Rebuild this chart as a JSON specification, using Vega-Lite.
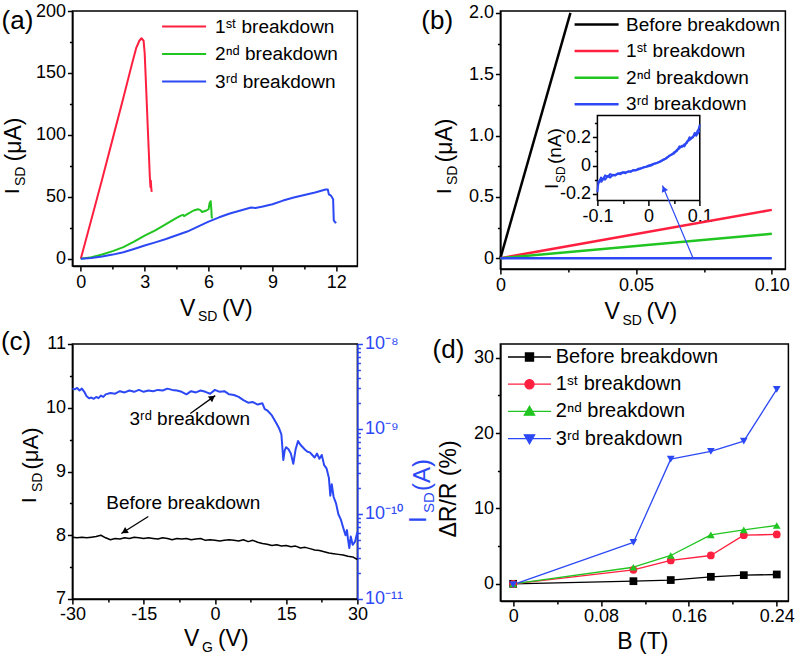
{
"$schema":"https://vega.github.io/schema/vega-lite/v6.json",
"padding":{"left":-0.6,"top":1,"right":5,"bottom":5},
"background":"white",
"columns":2,
"spacing":{"row":75,"column":143},
"bounds":"flush",
"resolve":{"scale":{"color":"independent","shape":"independent","fill":"independent","stroke":"independent"}},
"config":{
 "font":"Liberation Sans",
 "view":{"stroke":"#000","strokeWidth":1.5},
 "axis":{"grid":false,"domainColor":"#000","domainWidth":1.5,"tickColor":"#000","tickWidth":1.5,"labelColor":"#000","labelFontSize":18,"labelFont":"Liberation Sans","titleFont":"Liberation Sans","titleFontWeight":"normal","titleColor":"#000","titlePadding":0,"labelPadding":2,"labelOverlap":false,"labelFlush":false,"labelBound":false},
 "legend":{"labelFont":"Liberation Sans","labelColor":"#000"},
 "line":{"strokeJoin":"round"}
},
"datasets":{
 "a":[
  {"V":0,"I":0,"s":"1ˢᵗ breakdown"},{"V":0.5,"I":32,"s":"1ˢᵗ breakdown"},{"V":1,"I":64,"s":"1ˢᵗ breakdown"},{"V":1.5,"I":97,"s":"1ˢᵗ breakdown"},{"V":2,"I":130,"s":"1ˢᵗ breakdown"},{"V":2.4,"I":157,"s":"1ˢᵗ breakdown"},{"V":2.6,"I":170,"s":"1ˢᵗ breakdown"},{"V":2.75,"I":176,"s":"1ˢᵗ breakdown"},{"V":2.85,"I":178,"s":"1ˢᵗ breakdown"},{"V":2.95,"I":176,"s":"1ˢᵗ breakdown"},{"V":3.0,"I":166,"s":"1ˢᵗ breakdown"},{"V":3.05,"I":146,"s":"1ˢᵗ breakdown"},{"V":3.1,"I":125,"s":"1ˢᵗ breakdown"},{"V":3.15,"I":104,"s":"1ˢᵗ breakdown"},{"V":3.2,"I":84,"s":"1ˢᵗ breakdown"},{"V":3.24,"I":67,"s":"1ˢᵗ breakdown"},{"V":3.27,"I":58,"s":"1ˢᵗ breakdown"},{"V":3.29,"I":63,"s":"1ˢᵗ breakdown"},{"V":3.31,"I":57,"s":"1ˢᵗ breakdown"},{"V":3.33,"I":54,"s":"1ˢᵗ breakdown"},
  {"V":0,"I":0,"s":"2ⁿᵈ breakdown"},{"V":0.5,"I":1.2,"s":"2ⁿᵈ breakdown"},{"V":1,"I":3.5,"s":"2ⁿᵈ breakdown"},{"V":1.5,"I":6.2,"s":"2ⁿᵈ breakdown"},{"V":2,"I":9.4,"s":"2ⁿᵈ breakdown"},{"V":2.5,"I":13.8,"s":"2ⁿᵈ breakdown"},{"V":3,"I":18.7,"s":"2ⁿᵈ breakdown"},{"V":3.5,"I":23,"s":"2ⁿᵈ breakdown"},{"V":4,"I":28,"s":"2ⁿᵈ breakdown"},{"V":4.5,"I":33,"s":"2ⁿᵈ breakdown"},{"V":4.7,"I":34.8,"s":"2ⁿᵈ breakdown"},{"V":4.8,"I":35.5,"s":"2ⁿᵈ breakdown"},{"V":4.85,"I":34.5,"s":"2ⁿᵈ breakdown"},{"V":5,"I":36,"s":"2ⁿᵈ breakdown"},{"V":5.3,"I":39,"s":"2ⁿᵈ breakdown"},{"V":5.5,"I":40,"s":"2ⁿᵈ breakdown"},{"V":5.6,"I":39.5,"s":"2ⁿᵈ breakdown"},{"V":5.7,"I":37.8,"s":"2ⁿᵈ breakdown"},{"V":5.9,"I":39,"s":"2ⁿᵈ breakdown"},{"V":6.0,"I":40,"s":"2ⁿᵈ breakdown"},{"V":6.05,"I":45,"s":"2ⁿᵈ breakdown"},{"V":6.1,"I":46.5,"s":"2ⁿᵈ breakdown"},{"V":6.13,"I":40,"s":"2ⁿᵈ breakdown"},{"V":6.15,"I":33.4,"s":"2ⁿᵈ breakdown"},{"V":6.2,"I":33,"s":"2ⁿᵈ breakdown"},
  {"V":0,"I":0,"s":"3ʳᵈ breakdown"},{"V":0.5,"I":0.6,"s":"3ʳᵈ breakdown"},{"V":1,"I":1.9,"s":"3ʳᵈ breakdown"},{"V":1.5,"I":3.4,"s":"3ʳᵈ breakdown"},{"V":2,"I":5.3,"s":"3ʳᵈ breakdown"},{"V":2.5,"I":7.9,"s":"3ʳᵈ breakdown"},{"V":3,"I":10.7,"s":"3ʳᵈ breakdown"},{"V":3.5,"I":13.3,"s":"3ʳᵈ breakdown"},{"V":4,"I":16,"s":"3ʳᵈ breakdown"},{"V":4.5,"I":19,"s":"3ʳᵈ breakdown"},{"V":5,"I":22,"s":"3ʳᵈ breakdown"},{"V":5.5,"I":26,"s":"3ʳᵈ breakdown"},{"V":6,"I":30,"s":"3ʳᵈ breakdown"},{"V":6.5,"I":33.5,"s":"3ʳᵈ breakdown"},{"V":7,"I":36.6,"s":"3ʳᵈ breakdown"},{"V":7.5,"I":39,"s":"3ʳᵈ breakdown"},{"V":8,"I":41.4,"s":"3ʳᵈ breakdown"},{"V":8.2,"I":41,"s":"3ʳᵈ breakdown"},{"V":8.5,"I":42,"s":"3ʳᵈ breakdown"},{"V":9,"I":44,"s":"3ʳᵈ breakdown"},{"V":9.5,"I":47,"s":"3ʳᵈ breakdown"},{"V":10,"I":49.5,"s":"3ʳᵈ breakdown"},{"V":10.5,"I":51.5,"s":"3ʳᵈ breakdown"},{"V":11,"I":53.5,"s":"3ʳᵈ breakdown"},{"V":11.5,"I":56,"s":"3ʳᵈ breakdown"},{"V":11.6,"I":56,"s":"3ʳᵈ breakdown"},{"V":11.65,"I":52,"s":"3ʳᵈ breakdown"},{"V":11.75,"I":51,"s":"3ʳᵈ breakdown"},{"V":11.85,"I":48,"s":"3ʳᵈ breakdown"},{"V":11.88,"I":31,"s":"3ʳᵈ breakdown"},{"V":11.95,"I":29.5,"s":"3ʳᵈ breakdown"},{"V":12,"I":29,"s":"3ʳᵈ breakdown"}
 ],
 "b":[
  {"V":0,"I":0,"s":"Before breakdown"},{"V":0.0258,"I":2.0,"s":"Before breakdown"},
  {"V":0,"I":0,"s":"1ˢᵗ breakdown"},{"V":0.1,"I":0.394,"s":"1ˢᵗ breakdown"},
  {"V":0,"I":0,"s":"2ⁿᵈ breakdown"},{"V":0.1,"I":0.199,"s":"2ⁿᵈ breakdown"},
  {"V":0,"I":0,"s":"3ʳᵈ breakdown"},{"V":0.1,"I":0.0003,"s":"3ʳᵈ breakdown"}
 ],
 "insetbox":[{"x1":-0.1,"x2":0.1,"y1":-0.247,"y2":0.353}],
 "inset1":[
  {"V":-0.1,"I":-0.19},{"V":-0.098,"I":-0.12},{"V":-0.095,"I":-0.1},{"V":-0.092,"I":-0.115},{"V":-0.088,"I":-0.09},{"V":-0.085,"I":-0.1},{"V":-0.08,"I":-0.075},{"V":-0.075,"I":-0.085},{"V":-0.07,"I":-0.065},{"V":-0.065,"I":-0.07},{"V":-0.06,"I":-0.055},{"V":-0.055,"I":-0.062},{"V":-0.05,"I":-0.05},{"V":-0.045,"I":-0.055},{"V":-0.04,"I":-0.04},{"V":-0.035,"I":-0.045},{"V":-0.03,"I":-0.032},{"V":-0.025,"I":-0.035},{"V":-0.02,"I":-0.022},{"V":-0.015,"I":-0.02},{"V":-0.01,"I":-0.012},{"V":-0.005,"I":-0.008},{"V":0,"I":0},{"V":0.005,"I":0.005},{"V":0.01,"I":0.012},{"V":0.015,"I":0.018},{"V":0.02,"I":0.022},{"V":0.025,"I":0.035},{"V":0.03,"I":0.04},{"V":0.035,"I":0.055},{"V":0.04,"I":0.065},{"V":0.045,"I":0.08},{"V":0.05,"I":0.085},{"V":0.055,"I":0.11},{"V":0.06,"I":0.12},{"V":0.065,"I":0.14},{"V":0.07,"I":0.135},{"V":0.075,"I":0.17},{"V":0.08,"I":0.18},{"V":0.085,"I":0.2},{"V":0.09,"I":0.215},{"V":0.095,"I":0.24},{"V":0.098,"I":0.26},{"V":0.1,"I":0.29}
 ],
 "inset2":[
  {"V":0.1,"I":0.25},{"V":0.097,"I":0.23},{"V":0.093,"I":0.21},{"V":0.09,"I":0.23},{"V":0.087,"I":0.2},{"V":0.083,"I":0.19},{"V":0.08,"I":0.2},{"V":0.075,"I":0.16},{"V":0.07,"I":0.15},{"V":0.065,"I":0.13},{"V":0.06,"I":0.135},{"V":0.055,"I":0.1},{"V":0.05,"I":0.095},{"V":0.045,"I":0.075},{"V":0.04,"I":0.07},{"V":0.035,"I":0.05},{"V":0.03,"I":0.045},{"V":0.025,"I":0.03},{"V":0.02,"I":0.025},{"V":0.015,"I":0.015},{"V":0.01,"I":0.01},{"V":0.005,"I":0},{"V":0,"I":-0.005},{"V":-0.01,"I":-0.015},{"V":-0.02,"I":-0.028},{"V":-0.03,"I":-0.035},{"V":-0.04,"I":-0.045},{"V":-0.05,"I":-0.048},{"V":-0.06,"I":-0.06},{"V":-0.07,"I":-0.07},{"V":-0.075,"I":-0.06},{"V":-0.08,"I":-0.08},{"V":-0.085,"I":-0.07},{"V":-0.09,"I":-0.1},{"V":-0.093,"I":-0.085},{"V":-0.096,"I":-0.12},{"V":-0.1,"I":-0.11}
 ],
 "barrow":[{"x1":0.071,"y1":0,"x2":0.0597,"y2":0.5926}],
 "bhead":[{"x":0.0602,"y":0.5665}],
 "cblack":[
  {"VG":-30,"I":7.97},{"VG":-29,"I":7.96},{"VG":-28,"I":7.97},{"VG":-27,"I":7.96},{"VG":-26,"I":7.97},{"VG":-25,"I":7.98},{"VG":-24,"I":8.0},{"VG":-23,"I":7.96},{"VG":-22,"I":7.93},{"VG":-21,"I":7.95},{"VG":-20,"I":7.94},{"VG":-19,"I":7.96},{"VG":-18,"I":7.95},{"VG":-17,"I":7.97},{"VG":-16,"I":7.96},{"VG":-15,"I":7.95},{"VG":-14,"I":7.96},{"VG":-13,"I":7.95},{"VG":-12,"I":7.94},{"VG":-11,"I":7.96},{"VG":-10,"I":7.95},{"VG":-9,"I":7.93},{"VG":-8,"I":7.95},{"VG":-7,"I":7.94},{"VG":-6,"I":7.95},{"VG":-5,"I":7.93},{"VG":-4,"I":7.94},{"VG":-3,"I":7.95},{"VG":-2,"I":7.92},{"VG":-1,"I":7.93},{"VG":0,"I":7.92},{"VG":1,"I":7.91},{"VG":2,"I":7.92},{"VG":3,"I":7.93},{"VG":4,"I":7.92},{"VG":5,"I":7.91},{"VG":6,"I":7.93},{"VG":7,"I":7.9},{"VG":8,"I":7.92},{"VG":9,"I":7.89},{"VG":10,"I":7.87},{"VG":11,"I":7.86},{"VG":12,"I":7.84},{"VG":13,"I":7.85},{"VG":14,"I":7.83},{"VG":15,"I":7.84},{"VG":16,"I":7.82},{"VG":17,"I":7.83},{"VG":18,"I":7.8},{"VG":19,"I":7.81},{"VG":20,"I":7.79},{"VG":21,"I":7.77},{"VG":22,"I":7.76},{"VG":23,"I":7.74},{"VG":24,"I":7.72},{"VG":25,"I":7.71},{"VG":26,"I":7.7},{"VG":27,"I":7.69},{"VG":28,"I":7.67},{"VG":29,"I":7.66},{"VG":30,"I":7.62}
 ],
 "cblue":[
  {"VG":-30,"I":2.985e-9},{"VG":-29.5,"I":2.934e-9},{"VG":-29,"I":3.037e-9},{"VG":-28.5,"I":2.835e-9},{"VG":-28,"I":2.985e-9},{"VG":-27.5,"I":2.738e-9},{"VG":-27,"I":2.427e-9},{"VG":-26.5,"I":2.304e-9},{"VG":-26,"I":2.344e-9},{"VG":-25.5,"I":2.265e-9},{"VG":-25,"I":2.385e-9},{"VG":-24.5,"I":2.304e-9},{"VG":-24,"I":2.469e-9},{"VG":-23.5,"I":2.385e-9},{"VG":-23,"I":2.556e-9},{"VG":-22,"I":2.646e-9},{"VG":-21,"I":2.6e-9},{"VG":-20,"I":2.786e-9},{"VG":-19,"I":2.692e-9},{"VG":-18,"I":2.835e-9},{"VG":-17,"I":2.738e-9},{"VG":-16,"I":2.884e-9},{"VG":-15,"I":2.738e-9},{"VG":-14,"I":2.835e-9},{"VG":-13,"I":2.786e-9},{"VG":-12,"I":2.884e-9},{"VG":-11,"I":2.835e-9},{"VG":-10,"I":2.985e-9},{"VG":-9,"I":2.884e-9},{"VG":-8,"I":2.835e-9},{"VG":-7,"I":2.738e-9},{"VG":-6,"I":2.556e-9},{"VG":-5,"I":2.786e-9},{"VG":-4,"I":2.692e-9},{"VG":-3,"I":2.835e-9},{"VG":-2,"I":2.738e-9},{"VG":-1,"I":2.6e-9},{"VG":0,"I":2.884e-9},{"VG":1,"I":2.738e-9},{"VG":2,"I":2.786e-9},{"VG":3,"I":2.556e-9},{"VG":4,"I":2.512e-9},{"VG":5,"I":2.385e-9},{"VG":6,"I":2.188e-9},{"VG":7,"I":2.042e-9},{"VG":8,"I":2.077e-9},{"VG":9,"I":1.939e-9},{"VG":10,"I":2.007e-9},{"VG":10.5,"I":1.718e-9},{"VG":11,"I":1.66e-9},{"VG":12,"I":1.445e-9},{"VG":13,"I":1.155e-9},{"VG":13.5,"I":1.023e-9},{"VG":14,"I":8.61e-10},{"VG":14.4,"I":4.315e-10},{"VG":14.7,"I":5.59e-10},{"VG":15,"I":6.1e-10},{"VG":15.5,"I":5.79e-10},{"VG":16,"I":5.13e-10},{"VG":16.5,"I":3.89e-10},{"VG":17,"I":5.79e-10},{"VG":17.5,"I":7.24e-10},{"VG":18,"I":6.53e-10},{"VG":18.5,"I":6.1e-10},{"VG":19,"I":5.69e-10},{"VG":19.5,"I":5.4e-10},{"VG":20,"I":5.31e-10},{"VG":20.5,"I":4.95e-10},{"VG":21,"I":4.62e-10},{"VG":21.5,"I":5.13e-10},{"VG":22,"I":4.47e-10},{"VG":22.5,"I":4.95e-10},{"VG":23,"I":3.76e-10},{"VG":23.5,"I":3.45e-10},{"VG":24,"I":2.66e-10},{"VG":24.3,"I":1.641e-10},{"VG":24.6,"I":2.239e-10},{"VG":25,"I":1.585e-10},{"VG":25.5,"I":1.334e-10},{"VG":26,"I":9.94e-11},{"VG":26.5,"I":8.66e-11},{"VG":27,"I":6.92e-11},{"VG":27.5,"I":5.62e-11},{"VG":27.8,"I":6.46e-11},{"VG":28,"I":5.16e-11},{"VG":28.3,"I":3.98e-11},{"VG":28.6,"I":5.43e-11},{"VG":29,"I":4.34e-11},{"VG":29.5,"I":4.73e-11},{"VG":30,"I":6.13e-11}
 ],
 "cnote":[{"VG":-5.29,"v":9.83,"t":"3ʳᵈ breakdown"},{"VG":-6.66,"v":8.5,"t":"Before breakdown"}],
 "carrow3":[{"x1":-5.18,"y1":9.91,"x2":0.07,"y2":10.19}],
 "carrowB":[{"x1":-14.02,"y1":8.294,"x2":-19.7,"y2":8.027}],
 "chead3":[{"x":-0.515,"y":10.161}],
 "cheadB":[{"x":-19.06,"y":8.057}],
 "d":[
  {"B":0,"R":0,"s":"Before breakdown"},{"B":0.1095,"R":0.35,"s":"Before breakdown"},{"B":0.1435,"R":0.5,"s":"Before breakdown"},{"B":0.18,"R":0.93,"s":"Before breakdown"},{"B":0.21,"R":1.15,"s":"Before breakdown"},{"B":0.24,"R":1.24,"s":"Before breakdown"},
  {"B":0,"R":0,"s":"1ˢᵗ breakdown"},{"B":0.1095,"R":1.86,"s":"1ˢᵗ breakdown"},{"B":0.1435,"R":3.1,"s":"1ˢᵗ breakdown"},{"B":0.18,"R":3.76,"s":"1ˢᵗ breakdown"},{"B":0.21,"R":6.46,"s":"1ˢᵗ breakdown"},{"B":0.24,"R":6.55,"s":"1ˢᵗ breakdown"},
  {"B":0,"R":0,"s":"2ⁿᵈ breakdown"},{"B":0.1095,"R":2.2,"s":"2ⁿᵈ breakdown"},{"B":0.1435,"R":3.76,"s":"2ⁿᵈ breakdown"},{"B":0.18,"R":6.5,"s":"2ⁿᵈ breakdown"},{"B":0.21,"R":7.17,"s":"2ⁿᵈ breakdown"},{"B":0.24,"R":7.74,"s":"2ⁿᵈ breakdown"},
  {"B":0,"R":-0.1,"s":"3ʳᵈ breakdown"},{"B":0.1095,"R":5.49,"s":"3ʳᵈ breakdown"},{"B":0.1435,"R":16.55,"s":"3ʳᵈ breakdown"},{"B":0.18,"R":17.57,"s":"3ʳᵈ breakdown"},{"B":0.21,"R":18.94,"s":"3ʳᵈ breakdown"},{"B":0.24,"R":25.8,"s":"3ʳᵈ breakdown"}
 ]
},
"concat":[
 {
  "width":285,"height":255,
  "resolve":{"scale":{"x":"independent","y":"independent"}},
  "layer":[
   {"data":{"name":"a"},"transform":[{"filter":"datum.s === '1ˢᵗ breakdown'"}],"mark":{"type":"line","strokeWidth":2},
    "encoding":{
     "x":{"field":"V","type":"quantitative","scale":{"domain":[-0.394,12.99],"nice":false,"zero":false},"axis":{"orient":"bottom","values":[0,1.5,3,4.5,6,7.5,9,10.5,12],"labelExpr":"datum.value % 3 === 0 ? datum.label : ''","tickSize":{"condition":{"test":"datum.value % 3 === 0","value":5},"value":3},"title":"V","titleFontSize":23,"titleAngle":0,"titleAlign":"left","titleBaseline":"alphabetic","titleX":107,"titleY":49.3}},
     "y":{"field":"I","type":"quantitative","scale":{"domain":[-5.8,200],"nice":false,"zero":false},"axis":{"orient":"left","values":[0,25,50,75,100,125,150,175,200],"labelExpr":"datum.value % 50 === 0 ? datum.label : ''","tickSize":{"condition":{"test":"datum.value % 50 === 0","value":5},"value":3},"title":"I","titleFontSize":20,"titleAngle":-90,"titleAlign":"left","titleBaseline":"alphabetic","titleX":-54.3,"titleY":182.5}},
     "color":{"field":"s","type":"nominal","scale":{"domain":["1ˢᵗ breakdown","2ⁿᵈ breakdown","3ʳᵈ breakdown"],"range":["#ff2040","#21c521","#2c48f4"]},"legend":{"title":null,"orient":"none","legendX":102.2,"legendY":6,"symbolType":"M-4,0H4","symbolSize":121,"symbolStrokeWidth":2,"labelFontSize":19,"labelOffset":21.5,"rowPadding":7.5,"labelLimit":300}}
    }},
   {"data":{"name":"a"},"transform":[{"filter":"datum.s === '2ⁿᵈ breakdown'"}],"mark":{"type":"line","strokeWidth":2},
    "encoding":{
     "x":{"field":"V","type":"quantitative","scale":{"domain":[-0.394,12.99],"nice":false,"zero":false},"axis":{"orient":"bottom","labels":false,"ticks":false,"domain":false,"title":"SD","titleFontSize":14,"titleAngle":0,"titleAlign":"left","titleBaseline":"alphabetic","titleX":125,"titleY":54.5}},
     "y":{"field":"I","type":"quantitative","scale":{"domain":[-5.8,200],"nice":false,"zero":false},"axis":{"orient":"left","labels":false,"ticks":false,"domain":false,"title":"SD","titleFontSize":14,"titleAngle":-90,"titleAlign":"left","titleBaseline":"alphabetic","titleX":-48.3,"titleY":174.5}},
     "color":{"field":"s","type":"nominal","scale":{"domain":["1ˢᵗ breakdown","2ⁿᵈ breakdown","3ʳᵈ breakdown"],"range":["#ff2040","#21c521","#2c48f4"]},"legend":{"title":null,"orient":"none","legendX":102.2,"legendY":6,"symbolType":"M-4,0H4","symbolSize":121,"symbolStrokeWidth":2,"labelFontSize":19,"labelOffset":21.5,"rowPadding":7.5,"labelLimit":300}}
    }},
   {"data":{"name":"a"},"transform":[{"filter":"datum.s === '3ʳᵈ breakdown'"}],"mark":{"type":"line","strokeWidth":2},
    "encoding":{
     "x":{"field":"V","type":"quantitative","scale":{"domain":[-0.394,12.99],"nice":false,"zero":false},"axis":{"orient":"bottom","labels":false,"ticks":false,"domain":false,"title":"(V)","titleFontSize":23,"titleAngle":0,"titleAlign":"left","titleBaseline":"alphabetic","titleX":149,"titleY":49.3}},
     "y":{"field":"I","type":"quantitative","scale":{"domain":[-5.8,200],"nice":false,"zero":false},"axis":{"orient":"left","labels":false,"ticks":false,"domain":false,"title":"(μA)","titleFontSize":23,"titleAngle":-90,"titleAlign":"left","titleBaseline":"alphabetic","titleX":-52.3,"titleY":150}},
     "color":{"field":"s","type":"nominal","scale":{"domain":["1ˢᵗ breakdown","2ⁿᵈ breakdown","3ʳᵈ breakdown"],"range":["#ff2040","#21c521","#2c48f4"]},"legend":{"title":null,"orient":"none","legendX":102.2,"legendY":6,"symbolType":"M-4,0H4","symbolSize":121,"symbolStrokeWidth":2,"labelFontSize":19,"labelOffset":21.5,"rowPadding":7.5,"labelLimit":300}}
    }},
   {"data":{"name":"a"},"transform":[{"filter":"datum.s === '3ʳᵈ breakdown'"}],"mark":{"type":"line","strokeWidth":2,"opacity":0,"color":"#2c48f4"},
    "encoding":{
     "x":{"field":"V","type":"quantitative","scale":{"domain":[-0.394,12.99],"nice":false,"zero":false},"axis":{"orient":"top","labels":false,"ticks":false,"domain":false,"title":"(a)","titleFontSize":26,"titleAngle":0,"titleAlign":"left","titleBaseline":"alphabetic","titleX":-71.3,"titleY":17.5}},
     "y":{"field":"I","type":"quantitative","scale":{"domain":[-5.8,200],"nice":false,"zero":false},"axis":null}
    }}
  ]
 },
 {
  "width":285,"height":258,
  "resolve":{"scale":{"x":"independent","y":"independent"}},
  "layer":[
   {"data":{"name":"b"},"transform":[{"filter":"datum.s === 'Before breakdown'"}],"mark":{"type":"line","strokeWidth":2.5},
    "encoding":{
     "x":{"field":"V","type":"quantitative","scale":{"domain":[0,0.105],"nice":false,"zero":false},"axis":{"orient":"bottom","values":[0,0.025,0.05,0.075,0.1],"labelExpr":"datum.value === 0 ? '0' : datum.value === 0.05 ? '0.05' : datum.value === 0.1 ? '0.10' : ''","tickSize":{"condition":{"test":"indexof([0,0.05,0.1], datum.value) >= 0","value":5},"value":3},"title":"V","titleFontSize":23,"titleAngle":0,"titleAlign":"left","titleBaseline":"alphabetic","titleX":103.5,"titleY":49.5}},
     "y":{"field":"I","type":"quantitative","scale":{"domain":[-0.088,2.015],"nice":false,"zero":false},"axis":{"orient":"left","values":[0,0.25,0.5,0.75,1,1.25,1.5,1.75,2],"labelExpr":"datum.value === 0 ? '0' : datum.value % 0.5 === 0 ? format(datum.value, '.1f') : ''","tickSize":{"condition":{"test":"datum.value % 0.5 === 0","value":5},"value":3},"title":"I","titleFontSize":20,"titleAngle":-90,"titleAlign":"left","titleBaseline":"alphabetic","titleX":-50.3,"titleY":182.5}},
     "color":{"field":"s","type":"nominal","scale":{"domain":["Before breakdown","1ˢᵗ breakdown","2ⁿᵈ breakdown","3ʳᵈ breakdown"],"range":["#000000","#ff2040","#21c521","#2c48f4"]},"legend":{"title":null,"orient":"none","legendX":86.7,"legendY":4,"symbolType":"M-4,0H4","symbolSize":121,"symbolStrokeWidth":2.5,"labelFontSize":19,"labelOffset":20,"rowPadding":6.6,"labelLimit":300}}
    }},
   {"data":{"name":"b"},"transform":[{"filter":"datum.s === '1ˢᵗ breakdown'"}],"mark":{"type":"line","strokeWidth":2.5},
    "encoding":{
     "x":{"field":"V","type":"quantitative","scale":{"domain":[0,0.105],"nice":false,"zero":false},"axis":{"orient":"bottom","labels":false,"ticks":false,"domain":false,"title":"SD","titleFontSize":14,"titleAngle":0,"titleAlign":"left","titleBaseline":"alphabetic","titleX":121.5,"titleY":55}},
     "y":{"field":"I","type":"quantitative","scale":{"domain":[-0.088,2.015],"nice":false,"zero":false},"axis":{"orient":"left","labels":false,"ticks":false,"domain":false,"title":"SD","titleFontSize":14,"titleAngle":-90,"titleAlign":"left","titleBaseline":"alphabetic","titleX":-44.3,"titleY":173.5}},
     "color":{"field":"s","type":"nominal","scale":{"domain":["Before breakdown","1ˢᵗ breakdown","2ⁿᵈ breakdown","3ʳᵈ breakdown"],"range":["#000000","#ff2040","#21c521","#2c48f4"]},"legend":{"title":null,"orient":"none","legendX":86.7,"legendY":4,"symbolType":"M-4,0H4","symbolSize":121,"symbolStrokeWidth":2.5,"labelFontSize":19,"labelOffset":20,"rowPadding":6.6,"labelLimit":300}}
    }},
   {"data":{"name":"b"},"transform":[{"filter":"datum.s === '2ⁿᵈ breakdown'"}],"mark":{"type":"line","strokeWidth":2.5},
    "encoding":{
     "x":{"field":"V","type":"quantitative","scale":{"domain":[0,0.105],"nice":false,"zero":false},"axis":{"orient":"bottom","labels":false,"ticks":false,"domain":false,"title":"(V)","titleFontSize":23,"titleAngle":0,"titleAlign":"left","titleBaseline":"alphabetic","titleX":145.5,"titleY":49.5}},
     "y":{"field":"I","type":"quantitative","scale":{"domain":[-0.088,2.015],"nice":false,"zero":false},"axis":{"orient":"left","labels":false,"ticks":false,"domain":false,"title":"(μA)","titleFontSize":23,"titleAngle":-90,"titleAlign":"left","titleBaseline":"alphabetic","titleX":-49.3,"titleY":151}},
     "color":{"field":"s","type":"nominal","scale":{"domain":["Before breakdown","1ˢᵗ breakdown","2ⁿᵈ breakdown","3ʳᵈ breakdown"],"range":["#000000","#ff2040","#21c521","#2c48f4"]},"legend":{"title":null,"orient":"none","legendX":86.7,"legendY":4,"symbolType":"M-4,0H4","symbolSize":121,"symbolStrokeWidth":2.5,"labelFontSize":19,"labelOffset":20,"rowPadding":6.6,"labelLimit":300}}
    }},
   {"data":{"name":"b"},"transform":[{"filter":"datum.s === '3ʳᵈ breakdown'"}],"mark":{"type":"line","strokeWidth":2.5},
    "encoding":{
     "x":{"field":"V","type":"quantitative","scale":{"domain":[0,0.105],"nice":false,"zero":false},"axis":null},
     "y":{"field":"I","type":"quantitative","scale":{"domain":[-0.088,2.015],"nice":false,"zero":false},"axis":null},
     "color":{"field":"s","type":"nominal","scale":{"domain":["Before breakdown","1ˢᵗ breakdown","2ⁿᵈ breakdown","3ʳᵈ breakdown"],"range":["#000000","#ff2040","#21c521","#2c48f4"]},"legend":{"title":null,"orient":"none","legendX":86.7,"legendY":4,"symbolType":"M-4,0H4","symbolSize":121,"symbolStrokeWidth":2.5,"labelFontSize":19,"labelOffset":20,"rowPadding":6.6,"labelLimit":300}}
    }},
   {"data":{"name":"insetbox"},"mark":{"type":"rect","filled":false,"stroke":"#000","strokeWidth":1.5},
    "encoding":{
     "x":{"field":"x1","type":"quantitative","scale":{"domain":[-0.2895,0.2672],"nice":false,"zero":false},"axis":{"orient":"bottom","offset":-68.5,"domain":false,"values":[-0.1,-0.05,0,0.05,0.1],"labelExpr":"datum.value === 0 ? '0' : datum.value === 0.1 ? '0.1' : datum.value === -0.1 ? '-0.1' : ''","tickSize":{"condition":{"test":"indexof([-0.1,0,0.1], datum.value) >= 0","value":5},"value":3},"title":null}},
     "x2":{"field":"x2"},
     "y":{"field":"y1","type":"quantitative","scale":{"domain":[-0.7309,1.0911],"nice":false,"zero":false},"axis":{"orient":"left","offset":-97,"domain":false,"values":[-0.2,-0.1,0,0.1,0.2,0.3],"labelExpr":"datum.value === 0 ? '0' : datum.value === 0.2 ? '0.2' : datum.value === -0.2 ? '-0.2' : ''","tickSize":{"condition":{"test":"indexof([-0.2,0,0.2], datum.value) >= 0","value":5},"value":3},"title":"I","titleFontSize":19,"titleAngle":-90,"titleAlign":"left","titleBaseline":"alphabetic","titleX":-40.3,"titleY":177.5}},
     "y2":{"field":"y2"}
    }},
   {"data":{"name":"inset1"},"mark":{"type":"line","color":"#2c48f4","strokeWidth":2},
    "encoding":{
     "x":{"field":"V","type":"quantitative","scale":{"domain":[-0.2895,0.2672],"nice":false,"zero":false},"axis":null},
     "y":{"field":"I","type":"quantitative","scale":{"domain":[-0.7309,1.0911],"nice":false,"zero":false},"axis":{"orient":"left","offset":-97,"labels":false,"ticks":false,"domain":false,"title":"SD","titleFontSize":12,"titleAngle":-90,"titleAlign":"left","titleBaseline":"alphabetic","titleX":-33.3,"titleY":171.5}}
    }},
   {"data":{"name":"inset2"},"mark":{"type":"line","color":"#2c48f4","strokeWidth":2},
    "encoding":{
     "x":{"field":"V","type":"quantitative","scale":{"domain":[-0.2895,0.2672],"nice":false,"zero":false},"axis":null},
     "y":{"field":"I","type":"quantitative","scale":{"domain":[-0.7309,1.0911],"nice":false,"zero":false},"axis":{"orient":"left","offset":-97,"labels":false,"ticks":false,"domain":false,"title":"(nA)","titleFontSize":19,"titleAngle":-90,"titleAlign":"left","titleBaseline":"alphabetic","titleX":-37.3,"titleY":152.5}}
    }},
   {"data":{"name":"barrow"},"mark":{"type":"rule","color":"#2c48f4","strokeWidth":1.2},
    "encoding":{
     "x":{"field":"x1","type":"quantitative","scale":{"domain":[0,0.105],"nice":false,"zero":false},"axis":null},
     "y":{"field":"y1","type":"quantitative","scale":{"domain":[-0.088,2.015],"nice":false,"zero":false},"axis":null},
     "x2":{"field":"x2"},"y2":{"field":"y2"}
    }},
   {"data":{"name":"bhead"},"mark":{"type":"point","shape":"triangle-up","filled":true,"color":"#2c48f4","opacity":1,"size":45,"angle":336.8},
    "encoding":{
     "x":{"field":"x","type":"quantitative","scale":{"domain":[0,0.105],"nice":false,"zero":false},"axis":{"orient":"top","labels":false,"ticks":false,"domain":false,"title":"(b)","titleFontSize":26,"titleAngle":0,"titleAlign":"left","titleBaseline":"alphabetic","titleX":-79.6,"titleY":17.5}},
     "y":{"field":"y","type":"quantitative","scale":{"domain":[-0.088,2.015],"nice":false,"zero":false},"axis":null}
    }}
  ]
 },
 {
  "width":285,"height":255,
  "resolve":{"scale":{"x":"independent","y":"independent"}},
  "layer":[
   {"data":{"name":"cblack"},"mark":{"type":"line","color":"#000","strokeWidth":1.5},
    "encoding":{
     "x":{"field":"VG","type":"quantitative","scale":{"domain":[-30,30],"nice":false,"zero":false},"axis":{"orient":"bottom","values":[-30,-22.5,-15,-7.5,0,7.5,15,22.5,30],"labelExpr":"datum.value % 15 === 0 ? '' + datum.value : ''","tickSize":{"condition":{"test":"datum.value % 15 === 0","value":5},"value":3},"title":"V","titleFontSize":23,"titleAngle":0,"titleAlign":"left","titleBaseline":"alphabetic","titleX":111,"titleY":46.5}},
     "y":{"field":"I","type":"quantitative","scale":{"domain":[7,11],"nice":false,"zero":false},"axis":{"orient":"left","values":[7,7.5,8,8.5,9,9.5,10,10.5,11],"labelExpr":"datum.value % 1 === 0 ? '' + datum.value : ''","tickSize":{"condition":{"test":"datum.value % 1 === 0","value":5},"value":3},"title":"I","titleFontSize":20,"titleAngle":-90,"titleAlign":"left","titleBaseline":"alphabetic","titleX":-37,"titleY":158.5}}
    }},
   {"data":{"name":"cblue"},"mark":{"type":"line","color":"#2c48f4","strokeWidth":2},
    "encoding":{
     "x":{"field":"VG","type":"quantitative","scale":{"domain":[-30,30],"nice":false,"zero":false},"axis":{"orient":"bottom","labels":false,"ticks":false,"domain":false,"title":"G","titleFontSize":14,"titleAngle":0,"titleAlign":"left","titleBaseline":"alphabetic","titleX":129,"titleY":53}},
     "y":{"field":"I","type":"quantitative","scale":{"type":"log","domain":[1e-11,1e-8],"nice":false},"axis":{"orient":"right","values":[1e-11,2e-11,3e-11,4e-11,5e-11,6e-11,7e-11,8e-11,9e-11,1e-10,2e-10,3e-10,4e-10,5e-10,6e-10,7e-10,8e-10,9e-10,1e-9,2e-9,3e-9,4e-9,5e-9,6e-9,7e-9,8e-9,9e-9,1e-8],"labelExpr":"datum.value === 1e-8 ? '10⁻⁸' : datum.value === 1e-9 ? '10⁻⁹' : datum.value === 1e-10 ? '10⁻¹⁰' : datum.value === 1e-11 ? '10⁻¹¹' : ''","tickSize":{"condition":{"test":"indexof([1e-11,1e-10,1e-9,1e-8], datum.value) >= 0","value":5},"value":3},"domainColor":"#2c48f4","tickColor":"#2c48f4","labelColor":"#2c48f4","titleColor":"#2c48f4","title":"I","titleFontSize":24,"titleAngle":-90,"titleAlign":"left","titleBaseline":"alphabetic","titleX":68,"titleY":178.5}}
    }},
   {"data":{"name":"cnote"},"mark":{"type":"text","fontSize":19,"font":"Liberation Sans","align":"center","baseline":"middle","color":"#000"},
    "encoding":{
     "x":{"field":"VG","type":"quantitative","scale":{"domain":[-30,30],"nice":false,"zero":false},"axis":{"orient":"bottom","labels":false,"ticks":false,"domain":false,"title":"(V)","titleFontSize":23,"titleAngle":0,"titleAlign":"left","titleBaseline":"alphabetic","titleX":145,"titleY":46.5}},
     "y":{"field":"v","type":"quantitative","scale":{"domain":[7,11],"nice":false,"zero":false},"axis":{"orient":"left","labels":false,"ticks":false,"domain":false,"title":"SD","titleFontSize":14,"titleAngle":-90,"titleAlign":"left","titleBaseline":"alphabetic","titleX":-31,"titleY":147.5}},
     "text":{"field":"t"}
    }},
   {"data":{"name":"carrow3"},"mark":{"type":"rule","color":"#000","strokeWidth":1.3},
    "encoding":{
     "x":{"field":"x1","type":"quantitative","scale":{"domain":[-30,30],"nice":false,"zero":false},"axis":null},
     "y":{"field":"y1","type":"quantitative","scale":{"domain":[7,11],"nice":false,"zero":false},"axis":{"orient":"left","labels":false,"ticks":false,"domain":false,"title":"(μA)","titleFontSize":22,"titleAngle":-90,"titleAlign":"left","titleBaseline":"alphabetic","titleX":-35,"titleY":125}},
     "x2":{"field":"x2"},"y2":{"field":"y2"}
    }},
   {"data":{"name":"carrowB"},"mark":{"type":"rule","color":"#000","strokeWidth":1.3},
    "encoding":{
     "x":{"field":"x1","type":"quantitative","scale":{"domain":[-30,30],"nice":false,"zero":false},"axis":null},
     "y":{"field":"y1","type":"quantitative","scale":{"domain":[7,11],"nice":false,"zero":false},"axis":{"orient":"right","labels":false,"ticks":false,"domain":false,"title":"SD","titleColor":"#2c48f4","titleFontSize":15,"titleAngle":-90,"titleAlign":"left","titleBaseline":"alphabetic","titleX":75.7,"titleY":168.5}},
     "x2":{"field":"x2"},"y2":{"field":"y2"}
    }},
   {"data":{"name":"chead3"},"mark":{"type":"point","shape":"triangle-up","filled":true,"color":"#000","opacity":1,"size":50,"angle":54},
    "encoding":{
     "x":{"field":"x","type":"quantitative","scale":{"domain":[-30,30],"nice":false,"zero":false},"axis":null},
     "y":{"field":"y","type":"quantitative","scale":{"domain":[7,11],"nice":false,"zero":false},"axis":{"orient":"right","labels":false,"ticks":false,"domain":false,"title":"(A)","titleColor":"#2c48f4","titleFontSize":24,"titleAngle":-90,"titleAlign":"left","titleBaseline":"alphabetic","titleX":72.4,"titleY":146.5}}
    }},
   {"data":{"name":"cheadB"},"mark":{"type":"point","shape":"triangle-up","filled":true,"color":"#000","opacity":1,"size":50,"angle":238},
    "encoding":{
     "x":{"field":"x","type":"quantitative","scale":{"domain":[-30,30],"nice":false,"zero":false},"axis":{"orient":"top","labels":false,"ticks":false,"domain":false,"title":"(c)","titleFontSize":26,"titleAngle":0,"titleAlign":"left","titleBaseline":"alphabetic","titleX":-72,"titleY":5.5}},
     "y":{"field":"y","type":"quantitative","scale":{"domain":[7,11],"nice":false,"zero":false},"axis":null}
    }}
  ]
 },
 {
  "width":288,"height":257,
  "data":{"name":"d"},
  "resolve":{"scale":{"x":"independent","y":"independent","color":"independent","shape":"independent","fill":"independent","stroke":"independent"}},
  "layer":[
   {"mark":{"type":"line","strokeWidth":1.3},
    "encoding":{
     "x":{"field":"B","type":"quantitative","scale":{"domain":[-0.0116,0.2506],"nice":false,"zero":false},"axis":{"orient":"bottom","values":[0,0.04,0.08,0.12,0.16,0.2,0.24],"labelExpr":"datum.value === 0 ? '0' : indexof([0.08,0.16,0.24], datum.value) >= 0 ? format(datum.value, '.2f') : ''","tickSize":{"condition":{"test":"indexof([0,0.08,0.16,0.24], datum.value) >= 0","value":5},"value":3},"title":"B (T)","titleFontSize":23,"titleAngle":0,"titleAlign":"center","titleBaseline":"alphabetic","titleX":142,"titleY":48}},
     "y":{"field":"R","type":"quantitative","scale":{"domain":[-2.28,31.83],"nice":false,"zero":false},"axis":{"orient":"left","values":[0,5,10,15,20,25,30],"labelExpr":"datum.value % 10 === 0 ? datum.label : ''","tickSize":{"condition":{"test":"datum.value % 10 === 0","value":5},"value":3},"title":"ΔR/R (%)","titleFontSize":23,"titleAngle":-90,"titleAlign":"center","titleBaseline":"alphabetic","titleX":-45,"titleY":144.5}},
     "color":{"field":"s","type":"nominal","scale":{"domain":["Before breakdown","1ˢᵗ breakdown","2ⁿᵈ breakdown","3ʳᵈ breakdown"],"range":["#000000","#ff2040","#21c521","#2c48f4"]},"legend":null}}},
   {"mark":{"type":"point","filled":true,"opacity":1,"size":60},
    "encoding":{
     "x":{"field":"B","type":"quantitative","scale":{"domain":[-0.0116,0.2506],"nice":false,"zero":false},"axis":null},
     "y":{"field":"R","type":"quantitative","scale":{"domain":[-2.28,31.83],"nice":false,"zero":false},"axis":null},
     "color":{"field":"s","type":"nominal","scale":{"domain":["Before breakdown","1ˢᵗ breakdown","2ⁿᵈ breakdown","3ʳᵈ breakdown"],"range":["#000000","#ff2040","#21c521","#2c48f4"]},"legend":null},
     "shape":{"field":"s","type":"nominal","scale":{"domain":["Before breakdown","1ˢᵗ breakdown","2ⁿᵈ breakdown","3ʳᵈ breakdown"],"range":["square","circle","triangle-up","triangle-down"]},"legend":null}
    }},
   {"mark":{"type":"point","opacity":0,"size":116,"strokeWidth":1.3},
    "encoding":{
     "x":{"field":"B","type":"quantitative","scale":{"domain":[-0.0116,0.2506],"nice":false,"zero":false},"axis":{"orient":"top","labels":false,"ticks":false,"domain":false,"title":"(d)","titleFontSize":26,"titleAngle":0,"titleAlign":"left","titleBaseline":"alphabetic","titleX":-68.3,"titleY":13.5}},
     "y":{"field":"R","type":"quantitative","scale":{"domain":[-2.28,31.83],"nice":false,"zero":false},"axis":null},
     "fill":{"field":"s","type":"nominal","scale":{"domain":["Before breakdown","1ˢᵗ breakdown","2ⁿᵈ breakdown","3ʳᵈ breakdown"],"range":["#000000","#ff2040","#21c521","#2c48f4"]},"legend":{"title":null,"orient":"none","legendX":19.1,"legendY":3,"symbolSize":116,"symbolOpacity":1,"symbolStrokeWidth":1.3,"labelFontSize":20,"labelOffset":16.3,"rowPadding":7.2,"labelLimit":300}},
     "stroke":{"field":"s","type":"nominal","scale":{"domain":["Before breakdown","1ˢᵗ breakdown","2ⁿᵈ breakdown","3ʳᵈ breakdown"],"range":["#000000","#ff2040","#21c521","#2c48f4"]},"legend":{"title":null,"orient":"none","legendX":19.1,"legendY":3,"symbolSize":116,"symbolOpacity":1,"symbolStrokeWidth":1.3,"labelFontSize":20,"labelOffset":16.3,"rowPadding":7.2,"labelLimit":300}},
     "shape":{"field":"s","type":"nominal","scale":{"domain":["Before breakdown","1ˢᵗ breakdown","2ⁿᵈ breakdown","3ʳᵈ breakdown"],"range":["M-4,0H4M-0.75,-0.75H0.75V0.75H-0.75Z","M-4,0H4M0.85,0A0.85,0.85,0,1,1,-0.85,0A0.85,0.85,0,1,1,0.85,0Z","M-4,0H4M0,-0.95L0.95,0.7H-0.95Z","M-4,0H4M0,0.95L0.95,-0.7H-0.95Z"]},"legend":{"title":null,"orient":"none","legendX":19.1,"legendY":3,"symbolSize":116,"symbolOpacity":1,"symbolStrokeWidth":1.3,"labelFontSize":20,"labelOffset":16.3,"rowPadding":7.2,"labelLimit":300}}
    }}
  ]
 }
]
}
